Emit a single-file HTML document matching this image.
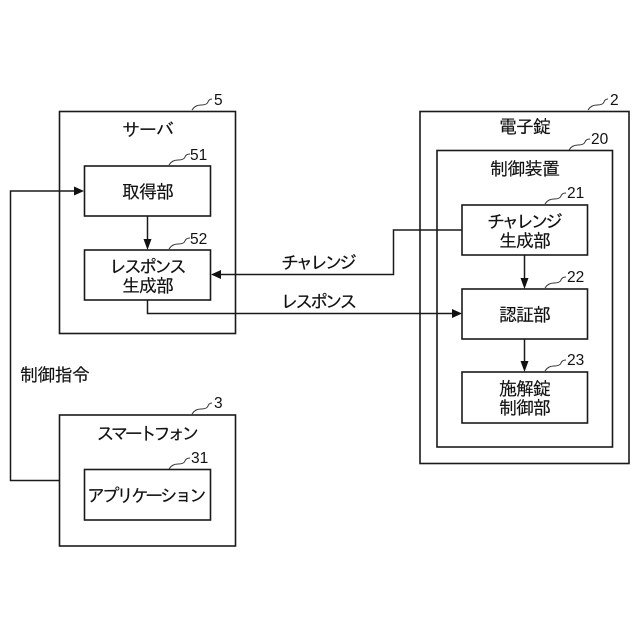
<!DOCTYPE html>
<html lang="ja"><head><meta charset="utf-8"><style>
html,body{margin:0;padding:0;background:#fff}
svg{display:block}
text{font-family:"IPAGothic","Noto Sans CJK JP",sans-serif;font-size:18px;fill:#111;text-anchor:middle;stroke:#111;stroke-width:.15}
.n{font-family:"Liberation Sans","IPAGothic",sans-serif;font-size:15.500px;text-anchor:start;stroke:none}
rect{fill:none;stroke:#1a1a1a;stroke-width:1.600}
.l{fill:none;stroke:#1a1a1a;stroke-width:1.500}
.c{fill:none;stroke:#333;stroke-width:1}
.a{fill:#111}
</style></head><body>
<svg width="640" height="640" viewBox="0 0 640 640" xmlns="http://www.w3.org/2000/svg">
<rect x="59.500" y="111.500" width="176" height="222"/>
<rect x="84.500" y="166" width="126" height="50"/>
<rect x="84.500" y="250" width="126" height="50"/>
<rect x="420" y="111.500" width="209" height="352"/>
<rect x="437" y="150.500" width="175.500" height="296.500"/>
<rect x="462" y="205" width="125.500" height="50"/>
<rect x="462" y="289" width="125.500" height="50"/>
<rect x="462" y="372" width="125.500" height="51"/>
<rect x="59.500" y="415" width="176" height="131"/>
<rect x="84.500" y="469.500" width="126" height="50.500"/>

<path class="l" d="M59 480.500H10.500V191H76"/>
<path class="a" d="M84 191l-10-4.500v9z"/>
<path class="l" d="M147.500 216V243"/>
<path class="a" d="M147.500 250l-4-11h8z"/>
<path class="l" d="M462 230H393.500V274.500H219"/>
<path class="a" d="M211 274.500l10-4.500v9z"/>
<path class="l" d="M147.500 300V313.500H454"/>
<path class="a" d="M462 313.500l-10-4.500v9z"/>
<path class="l" d="M524.500 255V282"/>
<path class="a" d="M524.500 289l-4-11h8z"/>
<path class="l" d="M524.500 339V365"/>
<path class="a" d="M524.500 372l-4-11h8z"/>

<path class="c" d="M192 110q3-5 9-5t7-3 4-3"/>
<path class="c" d="M169 165q3-5 9-5t7-3 5-3"/>
<path class="c" d="M169 249q3-5 9-5t7-3 5-3"/>
<path class="c" d="M588 110q3-5 9-5t7-3 4-3"/>
<path class="c" d="M569 150q3-5 9-5t7-3 5-3"/>
<path class="c" d="M545 204q3-5 9-5t7-3 5-3"/>
<path class="c" d="M545 288q3-5 9-5t7-3 5-3"/>
<path class="c" d="M545 371q3-5 9-5t7-3 5-3"/>
<path class="c" d="M192 414q3-5 9-5t7-3 4-3"/>
<path class="c" d="M169 469q3-5 9-5t7-3 5-3"/>

<text class="n" x="214" y="105">5</text>
<text class="n" x="190" y="160">51</text>
<text class="n" x="190" y="244">52</text>
<text class="n" x="610" y="105">2</text>
<text class="n" x="591" y="144">20</text>
<text class="n" x="567" y="198">21</text>
<text class="n" x="567" y="282">22</text>
<text class="n" x="567" y="365">23</text>
<text class="n" x="214" y="408">3</text>
<text class="n" x="191" y="463">31</text>

<text x="148" y="136" textLength="52">サーバ</text>
<text x="148" y="198" textLength="52">取得部</text>
<text x="148" y="273" textLength="78">レスポンス</text>
<text x="148" y="292" textLength="52">生成部</text>
<text x="525" y="133" textLength="52">電子錠</text>
<text x="525" y="175" textLength="70">制御装置</text>
<text x="525" y="228" textLength="76">チャレンジ</text>
<text x="525" y="247" textLength="52">生成部</text>
<text x="525" y="321" textLength="52">認証部</text>
<text x="525" y="395" textLength="52">施解錠</text>
<text x="525" y="414" textLength="52">制御部</text>
<text x="148" y="440" textLength="103">スマートフォン</text>
<text x="147" y="502" textLength="120">アプリケーション</text>
<text x="319" y="269" textLength="76">チャレンジ</text>
<text x="319" y="308" textLength="77">レスポンス</text>
<text x="55" y="381" textLength="70">制御指令</text>
</svg>
</body></html>
